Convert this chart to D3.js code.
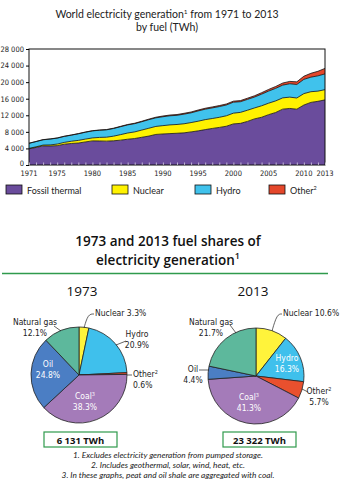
<!DOCTYPE html>
<html>
<head>
<meta charset="utf-8">
<script src="https://cdn.jsdelivr.net/npm/d3@7"></script>
<style>
  body { margin: 0; background: #fff; }
  svg { display: block; }
</style>
</head>
<body>
<div id="chart"></div>
<script>
// --- data ---
const years = d3.range(1971, 2014)
const fossil = [3900, 4240, 4610, 4590, 4670, 5010, 5190, 5300, 5570, 5820,
  5800, 5760, 5840, 6000, 6220, 6390, 6690, 6980, 7380, 7490,
  7580, 7660, 7760, 7990, 8240, 8540, 8820, 9070, 9350, 9920,
  10050, 10520, 11130, 11520, 12150, 12670, 13480, 13650, 13470, 14470,
  15110, 15370, 15720]
const nuclear = [110, 150, 200, 260, 380, 440, 540, 640, 680, 710,
  860, 950, 1120, 1330, 1500, 1600, 1740, 1890, 1930, 2010,
  2100, 2120, 2190, 2250, 2330, 2410, 2400, 2440, 2530, 2590,
  2650, 2700, 2640, 2770, 2770, 2800, 2720, 2730, 2700, 2760,
  2580, 2460, 2470]
const hydro = [1220, 1260, 1280, 1410, 1440, 1450, 1470, 1590, 1660, 1700,
  1730, 1780, 1850, 1920, 1960, 1990, 2010, 2070, 2070, 2150,
  2200, 2210, 2330, 2350, 2480, 2520, 2560, 2590, 2600, 2650,
  2580, 2620, 2630, 2810, 2920, 3030, 3080, 3230, 3260, 3440,
  3510, 3690, 3800]
const other = [30, 33, 37, 40, 42, 44, 46, 48, 50, 52,
  58, 64, 72, 82, 95, 105, 118, 130, 150, 175,
  180, 190, 200, 210, 220, 228, 235, 240, 245, 250,
  260, 285, 310, 350, 400, 450, 500, 570, 640, 760,
  935, 1100, 1330]
const yTicks = [0, 4000, 8000, 12000, 16000, 20000, 24000, 28000]
const xLabels = [1971, 1975, 1980, 1985, 1990, 1995, 2000, 2005, 2010, 2013]

const fuelKeys = ["fossil", "nuclear", "hydro", "other"]
const legendNames = ["Fossil thermal", "Nuclear", "Hydro", "Other"]
const areaColors = ["#6a4c9c", "#fff200", "#40c2ec", "#e4472b"]

const pieNames = ["Nuclear", "Hydro", "Other", "Coal", "Oil", "Natural gas"]
const pieColors = ["#fff33b", "#3fc0ec", "#e9502e", "#a47bb9", "#4b7ec4", "#5db89c"]
const share1973 = [3.3, 20.9, 0.6, 38.3, 24.8, 12.1]
const share2013 = [10.6, 16.3, 5.7, 41.3, 4.4, 21.7]
const totals = ["6 131 TWh", "23 322 TWh"]

const footnotes = [
  "1. Excludes electricity generation from pumped storage.",
  "2. Includes geothermal, solar, wind, heat, etc.",
  "3. In these graphs, peat and oil shale are aggregated with coal."
]

// --- setup ---
const w = 342, h = 485
const narrow = "'Liberation Sans Narrow', 'DejaVu Sans Condensed', 'Arial Narrow', sans-serif"
const round = "Lato, 'Open Sans', sans-serif"
const green = "#2f9a4c"

const svg = d3.select("#chart").append("svg")
    .attr("width", w)
    .attr("height", h)

// ::::::: area chart :::::::
const title = svg.append("text")
    .attr("x", 167).attr("y", 18)
    .attr("text-anchor", "middle")
    .attr("font-family", round).attr("font-size", 10.5).attr("fill", "#222")
title.append("tspan").text("World electricity generation")
title.append("tspan").text("1").attr("font-size", 6.5).attr("dy", -4)
title.append("tspan").text(" from 1971 to 2013").attr("dy", 4)
svg.append("text")
    .attr("x", 167).attr("y", 31)
    .attr("text-anchor", "middle")
    .attr("font-family", round).attr("font-size", 10.5).attr("fill", "#222")
    .text("by fuel (TWh)")

const x = d3.scaleLinear().domain([1971, 2013]).range([29, 325])
const y = d3.scaleLinear().domain([0, 28000]).range([165, 49])

const rows = years.map((yr, i) => ({
  year: yr, fossil: fossil[i], nuclear: nuclear[i], hydro: hydro[i], other: other[i]
}))
const series = d3.stack().keys(fuelKeys)(rows)

const area = d3.area()
    .x(d => x(d.data.year))
    .y0(d => y(d[0]))
    .y1(d => y(d[1]))
const topLine = d3.line()
    .x(d => x(d.data.year))
    .y(d => y(d[1]))

svg.selectAll(".layer")
    .data(series)
    .enter()
    .append("path")
    .attr("class", "layer")
    .attr("d", area)
    .attr("fill", (d, i) => areaColors[i])

svg.selectAll(".edge")
    .data(series)
    .enter()
    .append("path")
    .attr("class", "edge")
    .attr("d", topLine)
    .attr("fill", "none")
    .attr("stroke", "#111")
    .attr("stroke-width", 0.8)

// frame
svg.append("rect")
    .attr("x", x(1971)).attr("y", y(28000))
    .attr("width", x(2013) - x(1971)).attr("height", y(0) - y(28000))
    .attr("fill", "none").attr("stroke", "#111").attr("stroke-width", 1)

const fmt = d3.formatLocale({ decimal: ".", thousands: " ", grouping: [3], currency: ["", ""] }).format(",")

const yAxis = svg.append("g")
    .attr("transform", "translate(" + x(1971) + ",0)")
    .call(d3.axisLeft(y).tickValues(yTicks).tickFormat(fmt).tickSize(3).tickPadding(2))
yAxis.select(".domain").remove()
yAxis.selectAll("text").attr("font-family", narrow).attr("font-size", 7.5).attr("fill", "#222")
  .attr("dy", d => d === 0 ? "0.1em" : "0.32em")

const xAxis = svg.append("g")
    .attr("transform", "translate(0," + y(0) + ")")
    .call(d3.axisBottom(x).tickValues(years).tickSize(-2.5).tickFormat(""))
xAxis.select(".domain").remove()
xAxis.selectAll("line").attr("stroke", "#fff").attr("stroke-width", 0.6)

svg.append("g")
    .selectAll("text")
    .data(xLabels)
    .enter()
    .append("text")
    .attr("x", d => x(d))
    .attr("y", 176)
    .attr("text-anchor", "middle")
    .attr("font-family", narrow).attr("font-size", 7.5).attr("fill", "#222")
    .text(d => d)

// legend
const legendX = [6, 112, 195, 269]
const legend = svg.selectAll(".legend")
    .data(legendNames)
    .enter()
    .append("g")
    .attr("class", "legend")
    .attr("transform", (d, i) => "translate(" + legendX[i] + ",185)")
legend.append("rect")
    .attr("width", 16).attr("height", 9)
    .attr("fill", (d, i) => areaColors[i])
    .attr("stroke", "#111").attr("stroke-width", 0.8)
const legendText = legend.append("text")
    .attr("x", 21).attr("y", 9)
    .attr("font-family", round).attr("font-size", 9).attr("fill", "#222")
legendText.append("tspan").text(d => d)
legendText.filter(d => d === "Other").append("tspan").text("2").attr("font-size", 5.5).attr("dy", -4)

// ::::::: pies :::::::
const t2 = "'Open Sans', 'Noto Sans', sans-serif"
svg.append("text")
    .attr("x", 168).attr("y", 246)
    .attr("text-anchor", "middle")
    .attr("font-family", t2).attr("font-weight", 600).attr("font-size", 13.5).attr("fill", "#111")
    .text("1973 and 2013 fuel shares of")
const t2b = svg.append("text")
    .attr("x", 168).attr("y", 265)
    .attr("text-anchor", "middle")
    .attr("font-family", t2).attr("font-weight", 600).attr("font-size", 13.5).attr("fill", "#111")
t2b.append("tspan").text("electricity generation")
t2b.append("tspan").text("1").attr("font-size", 9).attr("dy", -6)

svg.append("line")
    .attr("x1", 2).attr("x2", 328).attr("y1", 273.5).attr("y2", 273.5)
    .attr("stroke", green).attr("stroke-width", 1.5)

const pie = d3.pie().sort(null).value(d => d)
const arc = d3.arc().innerRadius(0).outerRadius(48)

const pies = [
  { year: "1973", shares: share1973, cx: 79, cy: 375, tx: 82, total: totals[0], bx: 44,
    labels: [
      { lines: ["Nuclear 3.3%"], x: 95, y: 316, anchor: "start", color: "#222" },
      { lines: ["Hydro", "20.9%"], x: 137, y: 337, anchor: "middle", color: "#222" },
      { lines: ["Other²", "0.6%"], x: 133, y: 377, anchor: "start", color: "#222" },
      { lines: ["Coal³", "38.3%"], x: 85, y: 399, anchor: "middle", color: "#fff" },
      { lines: ["Oil", "24.8%"], x: 48, y: 367, anchor: "middle", color: "#fff" },
      { lines: ["Natural gas", "12.1%"], x: 35, y: 325, anchor: "middle", color: "#222" }
    ],
    leaders: [
      [[84, 328], [88, 314], [94, 314]],
      [[116, 345], [126, 341]],
      [[127, 375], [132, 375]],
      [[54, 326], [61, 331]]
    ] },
  { year: "2013", shares: share2013, cx: 256, cy: 376, tx: 253, total: totals[1], bx: 223,
    labels: [
      { lines: ["Nuclear 10.6%"], x: 283, y: 316, anchor: "start", color: "#222" },
      { lines: ["Hydro", "16.3%"], x: 287, y: 361, anchor: "middle", color: "#fff" },
      { lines: ["Other²", "5.7%"], x: 319, y: 394, anchor: "middle", color: "#222" },
      { lines: ["Coal³", "41.3%"], x: 249, y: 400, anchor: "middle", color: "#fff" },
      { lines: ["Oil", "4.4%"], x: 193, y: 372, anchor: "middle", color: "#222" },
      { lines: ["Natural gas", "21.7%"], x: 211, y: 325, anchor: "middle", color: "#222" }
    ],
    leaders: [
      [[272, 331], [277, 314], [282, 314]],
      [[230, 325], [236, 333]],
      [[199, 370], [209, 370]],
      [[302, 389], [308, 392]]
    ] }
]

pies.forEach(function (p) {
  svg.append("text")
      .attr("x", p.tx).attr("y", 296)
      .attr("text-anchor", "middle")
      .attr("font-family", t2).attr("font-size", 13.5).attr("fill", "#111")
      .text(p.year)

  const g = svg.append("g").attr("transform", "translate(" + p.cx + "," + p.cy + ")")
  g.selectAll("path")
      .data(pie(p.shares))
      .enter()
      .append("path")
      .attr("d", arc)
      .attr("fill", (d, i) => pieColors[i])
      .attr("stroke", "#222").attr("stroke-width", 0.8)

  svg.selectAll(null)
      .data(p.leaders)
      .enter()
      .append("path")
      .attr("d", d => d3.line().curve(d3.curveBasis)(d))
      .attr("fill", "none").attr("stroke", "#222").attr("stroke-width", 0.7)

  // each label line is its own text, so superscripts don't shift the next line
  p.labels.forEach(function (lb) {
    lb.lines.forEach(function (ln, k) {
      const t = svg.append("text")
          .attr("x", lb.x).attr("y", lb.y + k * 10.5)
          .attr("text-anchor", lb.anchor)
          .attr("font-family", narrow).attr("font-size", 8.5).attr("fill", lb.color)
      const sup = ln.match(/[²³]$/)
      if (sup) {
        t.append("tspan").text(ln.slice(0, -1))
        t.append("tspan").text(sup[0] === "²" ? "2" : "3").attr("font-size", 5.5).attr("dy", -3)
      } else {
        t.text(ln)
      }
    })
  })

  // total box
  svg.append("rect")
      .attr("x", p.bx).attr("y", 432).attr("width", 73).attr("height", 15)
      .attr("fill", "#fff").attr("stroke", green).attr("stroke-width", 1.2)
  svg.append("text")
      .attr("x", p.bx + 36.5).attr("y", 443.5)
      .attr("text-anchor", "middle")
      .attr("font-family", t2).attr("font-weight", 700).attr("font-size", 9.5).attr("fill", "#111")
      .text(p.total)
})

svg.selectAll(".foot")
    .data(footnotes)
    .enter()
    .append("text")
    .attr("class", "foot")
    .attr("x", 168)
    .attr("y", (d, i) => 458 + i * 10)
    .attr("text-anchor", "middle")
    .attr("font-family", round).attr("font-style", "italic").attr("font-size", 8.3).attr("fill", "#222")
    .text(d => d)
</script>
</body>
</html>
